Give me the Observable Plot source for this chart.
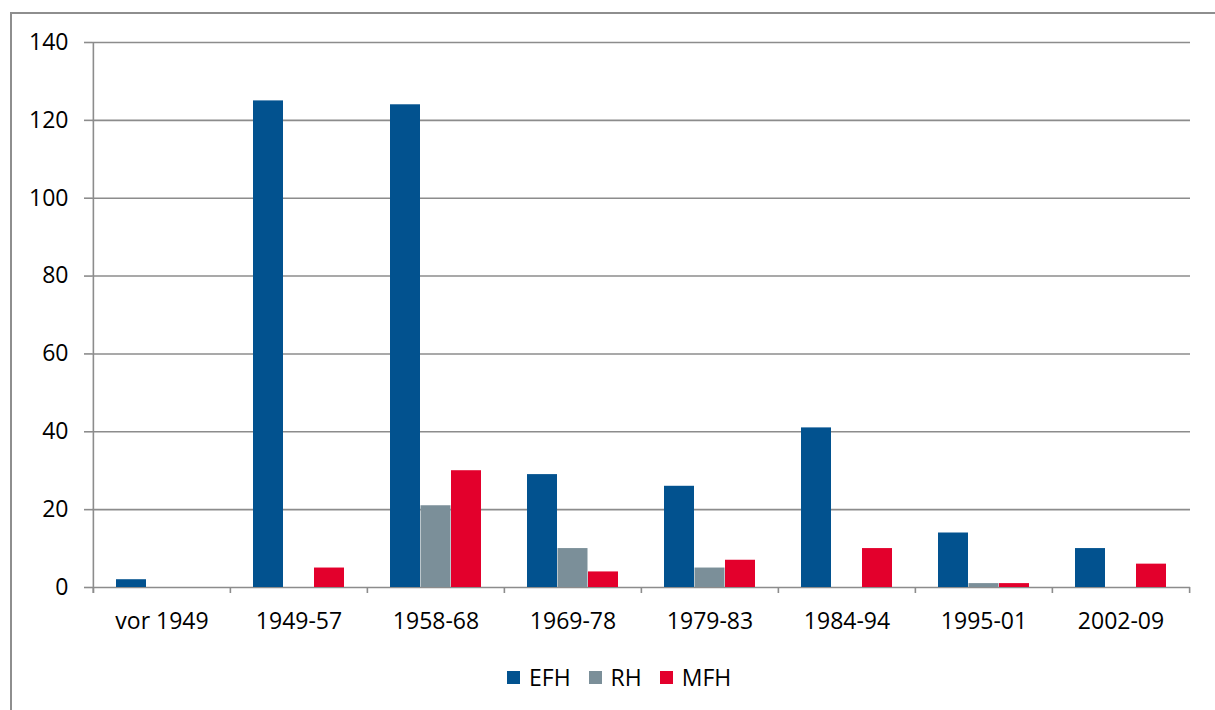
<!DOCTYPE html>
<html>
<head>
<meta charset="utf-8">
<script src="https://cdn.jsdelivr.net/npm/d3@7"></script>
<script src="https://cdn.jsdelivr.net/npm/@observablehq/plot@0.6"></script>
<style>
  html, body { margin: 0; padding: 0; background: #fff; width: 1215px; height: 710px; overflow: hidden; }
  body { font-family: "Open Sans", sans-serif; position: relative; }
  #frame { position: absolute; left: 10px; top: 12px; width: 1300px; height: 800px; border: 2px solid #8e8e8e; box-sizing: border-box; }
  #chart { position: absolute; left: 0; top: 0; }
  #legend { position: absolute; left: 507px; top: 661px; display: flex; align-items: center; font-size: 23px; color: #000; }
  .item { display: flex; align-items: center; margin-right: 18px; }
  .sw { width: 13px; height: 13px; margin-right: 9px; }
</style>
</head>
<body>
<div id="frame"></div>
<div id="chart"></div>
<div id="legend"></div>
<script>
const categories = ["vor 1949", "1949-57", "1958-68", "1969-78", "1979-83", "1984-94", "1995-01", "2002-09"];
const seriesNames = ["EFH", "RH", "MFH"];
const efh = [2, 125, 124, 29, 26, 41, 14, 10];
const rh  = [0, 0, 21, 10, 5, 0, 1, 0];
const mfh = [0, 5, 30, 4, 7, 10, 1, 6];
const yTicks = [0, 20, 40, 60, 80, 100, 120, 140];
const colors = ["#02528f", "#7b8f99", "#e3002c"];

const W = 1215, H = 640;
const mL = 92, mR = 25, mT = 42, mB = 53;
const step = (W - mL - mR) / categories.length;
const bw = step * 2 / 3;
const grey = "#8c8c8c";

const rows = (vals) => categories.map((c, i) => ({cat: c, v: vals[i]}));
const dEFH = rows(efh), dRH = rows(rh), dMFH = rows(mfh);

const plot = Plot.plot({
  width: W, height: H,
  marginLeft: mL, marginRight: mR, marginTop: mT, marginBottom: mB,
  style: {fontFamily: "Open Sans, sans-serif", fontSize: "23px", color: "#000", background: "transparent"},
  x: {domain: categories, paddingInner: 1/3, paddingOuter: 1/6, axis: null},
  y: {domain: [0, 140], axis: null},
  marks: [
    Plot.ruleY(yTicks, {stroke: grey, strokeWidth: 1.6}),
    Plot.axisY(yTicks, {tickSize: 8, tickPadding: 16, stroke: grey, strokeWidth: 1.6, label: null, fill: "#000"}),
    Plot.ruleX([categories[0]], {x: d => d, dx: -bw / 2 - step / 6, stroke: grey, strokeWidth: 1.6, insetBottom: -6}),
    Plot.ruleX(categories, {x: d => d, y1: 0, y2: 0, dx: -bw / 2 - step / 6, insetBottom: -6, stroke: grey, strokeWidth: 1.6}),
    Plot.ruleX([categories[categories.length - 1]], {x: d => d, y1: 0, y2: 0, dx: bw / 2 + step / 6, insetBottom: -6, stroke: grey, strokeWidth: 1.6}),
    Plot.barY(dEFH, {x: "cat", y: "v", fill: colors[0], insetRight: bw * 2 / 3}),
    Plot.barY(dRH, {x: "cat", y: "v", fill: colors[1], insetLeft: bw / 3, insetRight: bw / 3}),
    Plot.barY(dMFH, {x: "cat", y: "v", fill: colors[2], insetLeft: bw * 2 / 3}),
    Plot.axisX(categories, {tickSize: 0, tickPadding: 25, label: null, fill: "#000"})
  ]
});
document.getElementById("chart").appendChild(plot);

const leg = document.getElementById("legend");
seriesNames.forEach((s, i) => {
  const it = document.createElement("div");
  it.className = "item";
  const sw = document.createElement("div");
  sw.className = "sw";
  sw.style.background = colors[i];
  const t = document.createElement("span");
  t.textContent = s;
  it.appendChild(sw); it.appendChild(t);
  leg.appendChild(it);
});
</script>
</body>
</html>
